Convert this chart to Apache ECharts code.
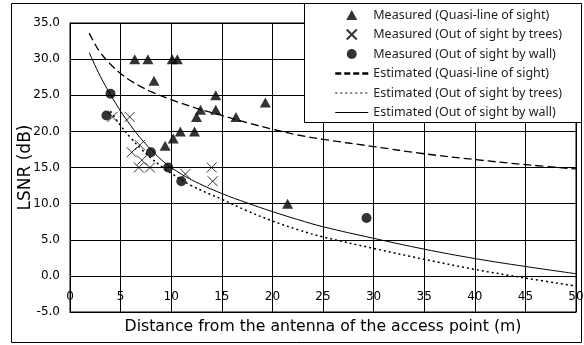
<!DOCTYPE html>
<html>
<head>
<meta charset="utf-8">
<script src="https://cdn.jsdelivr.net/npm/echarts@6/dist/echarts.min.js"></script>
<style>
  html, body { margin: 0; padding: 0; background: #fff; }
  #chart { width: 584px; height: 345px; }
</style>
</head>
<body>
<div id="chart"></div>
<script>
// measured points [distance m, LSNR dB]
const measuredLos = [
  [6.4, 30], [7.7, 30], [10.1, 30], [10.6, 30], [8.3, 27], [14.4, 25],
  [12.9, 23], [14.4, 23], [12.5, 22], [16.4, 22], [19.3, 24], [10.9, 20],
  [12.3, 20], [10.2, 19], [9.4, 18], [21.5, 10]
]
const measuredTrees = [
  [4.2, 22], [5.9, 22], [6.9, 18.1], [6.1, 17.1], [7.1, 16], [6.8, 15],
  [7.9, 15], [11.4, 14.1], [14.0, 15], [14.1, 13.1]
]
const measuredWall = [
  [3.6, 22.2], [4.0, 25.2], [8.0, 17.1], [9.7, 15], [11.0, 13.1], [29.3, 8]
]

// estimated curves
const estimatedLos = [
  [1.9, 33.6], [2.5, 32.0], [3, 30.9], [4, 29.3], [5, 28.0], [6, 27.0], [7, 26.2],
  [8, 25.5], [10, 24.4], [12.5, 23.2], [15, 22.2], [17.5, 21.2], [20, 20.3],
  [22.5, 19.5], [25, 18.9], [30, 17.9], [35, 16.9], [40, 16.1], [45, 15.4], [50, 14.8]
]
const estimatedTrees = [
  [4, 22.8], [5, 20.8], [6, 19.1], [7, 17.6], [8, 16.3], [9, 15.2], [10, 14.2],
  [12, 12.5], [15, 10.6], [17.5, 9.0], [20, 7.6], [22.5, 6.4], [25, 5.4],
  [30, 3.8], [35, 2.3], [40, 0.9], [45, -0.3], [50, -1.4]
]
const estimatedWall = [
  [1.9, 30.9], [3, 27.6], [4, 25.1], [5, 22.8], [6, 20.8], [7, 19.0], [8, 17.5],
  [9, 16.1], [10, 15.0], [12, 13.3], [15, 11.4], [17.5, 10.1], [20, 8.9],
  [22.5, 7.8], [25, 6.8], [30, 5.2], [35, 3.7], [40, 2.4], [45, 1.3], [50, 0.3]
]

const seriesNames = [
  'Measured (Quasi-line of sight)',
  'Measured (Out of sight by trees)',
  'Measured (Out of sight by wall)',
  'Estimated (Quasi-line of sight)',
  'Estimated (Out of sight by trees)',
  'Estimated (Out of sight by wall)'
]

const xTitle = 'Distance from the antenna of the access point (m)'
const yTitle = 'LSNR (dB)'

const axisFont = '"DejaVu Sans", sans-serif'
const legendFont = '"Noto Sans", sans-serif'
const crossPath = 'path://M0,0L10,10M10,0L0,10'
const trianglePath = 'path://M5,0L10,9L0,9Z'
const noMarker = { color: 'transparent', borderWidth: 0, opacity: 0 }

const chart = echarts.init(document.getElementById('chart'))

chart.setOption({
  animation: false,
  backgroundColor: '#fff',
  textStyle: { fontFamily: axisFont },
  grid: {
    left: 70,
    right: 8,
    top: 23,
    bottom: 33,
    containLabel: false,
    outerBoundsMode: 'none',
    show: true,
    borderColor: '#000',
    borderWidth: 1
  },
  graphic: [
    {
      type: 'rect',
      z: 0,
      silent: true,
      shape: { x: 11.5, y: 3.5, width: 570, height: 339 },
      style: { fill: 'none', stroke: '#000', lineWidth: 1 }
    },
    {
      type: 'rect',
      z: 3,
      silent: true,
      shape: { x: 304.5, y: 3.5, width: 277, height: 119 },
      style: { fill: '#fff', stroke: '#000', lineWidth: 1 }
    }
  ],
  legend: {
    orient: 'vertical',
    left: 334,
    top: 8,
    padding: 0,
    itemWidth: 33,
    itemHeight: 10,
    itemGap: 5.5,
    textStyle: { fontSize: 12.5, color: '#222', lineHeight: 14, fontFamily: legendFont },
    data: [
      { name: seriesNames[0], icon: trianglePath },
      { name: seriesNames[1] },
      { name: seriesNames[2] },
      { name: seriesNames[3], lineStyle: { width: 2.5, type: [6, 3] }, itemStyle: noMarker },
      { name: seriesNames[4], lineStyle: { width: 1, type: [2, 3] }, itemStyle: noMarker },
      { name: seriesNames[5], lineStyle: { width: 1 }, itemStyle: noMarker }
    ]
  },
  xAxis: {
    type: 'value',
    min: 0,
    max: 50,
    interval: 5,
    name: xTitle,
    nameLocation: 'middle',
    nameGap: 7,
    nameMoveOverlap: false,
    nameTextStyle: { fontSize: 15.7, color: '#000', verticalAlign: 'top' },
    axisLine: { onZero: false, lineStyle: { color: '#000', width: 1 } },
    axisTick: { show: false },
    axisLabel: { margin: -21, fontSize: 12, color: '#000' },
    splitLine: { show: true, lineStyle: { color: '#000', width: 1 } }
  },
  yAxis: {
    type: 'value',
    min: -5,
    max: 35,
    interval: 5,
    name: yTitle,
    nameLocation: 'middle',
    nameRotate: 90,
    nameGap: 36,
    nameMoveOverlap: false,
    nameTextStyle: { fontSize: 17, color: '#000' },
    axisLine: { show: true, onZero: false, lineStyle: { color: '#000', width: 1 } },
    axisTick: { show: false },
    axisLabel: { margin: 10, fontSize: 12, color: '#000', formatter: v => v.toFixed(1) },
    splitLine: { show: true, lineStyle: { color: '#000', width: 1 } }
  },
  series: [
    {
      name: seriesNames[0],
      type: 'scatter',
      symbol: 'triangle',
      symbolSize: [11, 10],
      itemStyle: { color: '#000' },
      data: measuredLos
    },
    {
      name: seriesNames[1],
      type: 'scatter',
      symbol: crossPath,
      symbolSize: 10,
      itemStyle: { color: 'transparent', borderColor: '#000', borderWidth: 1 },
      data: measuredTrees
    },
    {
      name: seriesNames[2],
      type: 'scatter',
      symbol: 'circle',
      symbolSize: 10,
      itemStyle: { color: '#000' },
      data: measuredWall
    },
    {
      name: seriesNames[3],
      type: 'line',
      symbol: 'none',
      smooth: 0.4,
      lineStyle: { color: '#000', width: 1.3, type: [8, 4] },
      itemStyle: { color: '#000' },
      data: estimatedLos
    },
    {
      name: seriesNames[4],
      type: 'line',
      symbol: 'none',
      smooth: 0.4,
      lineStyle: { color: '#000', width: 1.5, type: [2, 3] },
      itemStyle: { color: '#000' },
      data: estimatedTrees
    },
    {
      name: seriesNames[5],
      type: 'line',
      symbol: 'none',
      smooth: 0.4,
      lineStyle: { color: '#000', width: 1 },
      itemStyle: { color: '#000' },
      data: estimatedWall
    }
  ]
})
</script>
</body>
</html>
